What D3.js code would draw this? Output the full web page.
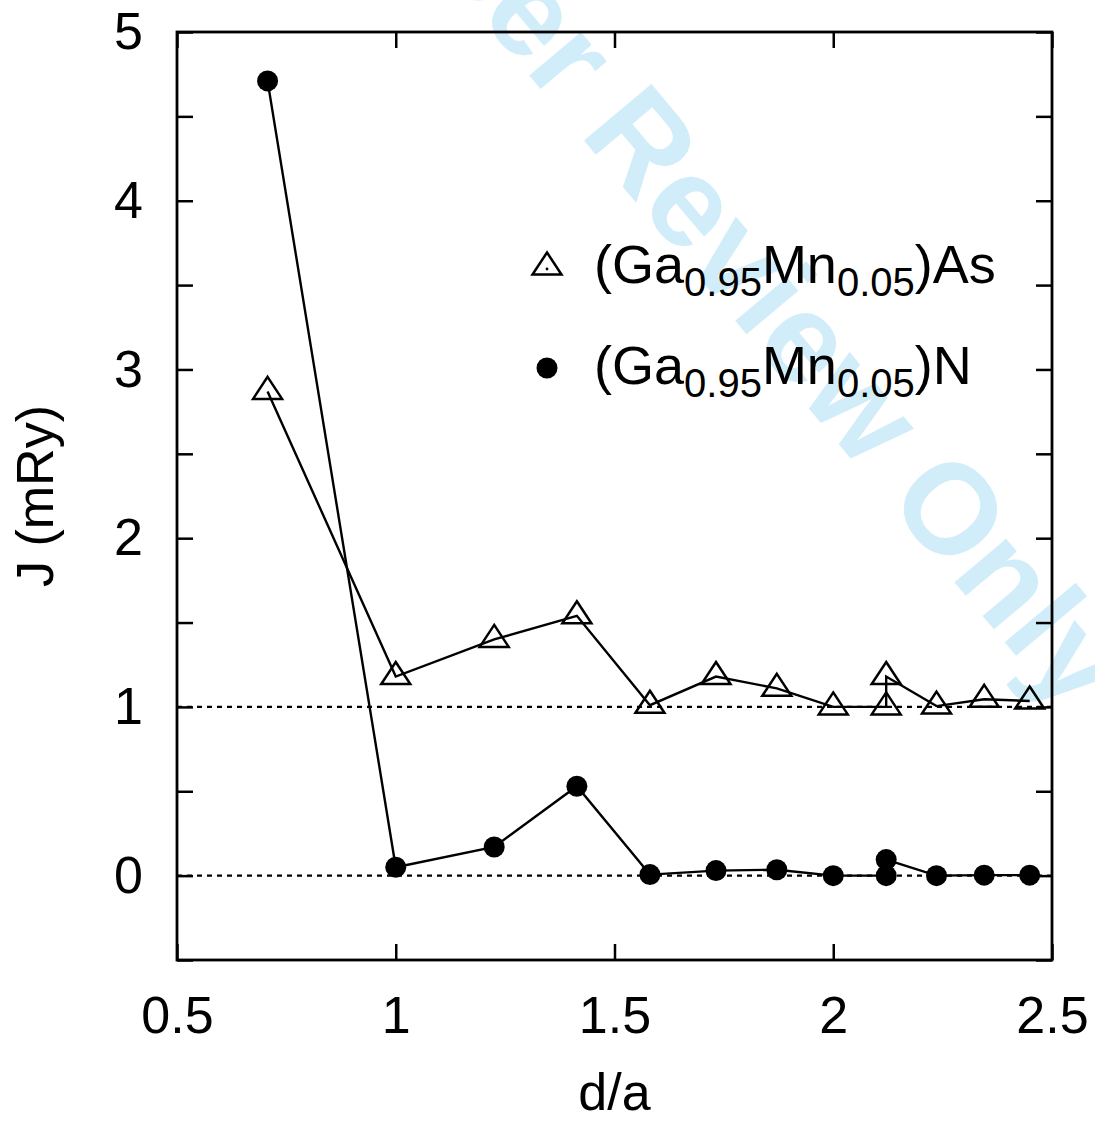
<!DOCTYPE html>
<html>
<head>
<meta charset="utf-8">
<script src="https://cdn.jsdelivr.net/npm/d3@7"></script>
<style>
  html, body { margin: 0; padding: 0; background: #fff; }
  svg { display: block; }
  text { font-family: "Liberation Sans", Arial, Helvetica, sans-serif; fill: #000; }
</style>
</head>
<body>
<svg id="chart" width="1095" height="1121"></svg>
<script>
// ---- data ----
const dOverA = [0.707, 1.0, 1.225, 1.414, 1.581, 1.732, 1.871, 2.0, 2.121, 2.121, 2.236, 2.345, 2.449];
const jGaMnAs = [2.87, 1.18, 1.40, 1.54, 1.01, 1.18, 1.11, 1.00, 1.00, 1.18, 1.005, 1.045, 1.035];
const jGaMnN  = [4.71, 0.05, 0.17, 0.53, 0.006, 0.03, 0.035, 0.0, 0.0, 0.095, 0.0, 0.003, 0.003];
const referenceLines = [0, 1];
const xTicks = [0.5, 1, 1.5, 2, 2.5];
const xTickLabels = ["0.5", "1", "1.5", "2", "2.5"];
const yTicks = [-0.5, 0, 0.5, 1, 1.5, 2, 2.5, 3, 3.5, 4, 4.5, 5];
const yTickLabels = ["", "0", "", "1", "", "2", "", "3", "", "4", "", "5"];
const xLabel = "d/a";
const yLabel = "J (mRy)";
const legendEntries = [
  { parts: [["(Ga", 0], ["0.95", 1], ["Mn", 0], ["0.05", 1], [")As", 0]], symbol: "triangle" },
  { parts: [["(Ga", 0], ["0.95", 1], ["Mn", 0], ["0.05", 1], [")N", 0]], symbol: "circle" }
];
const watermark = "For Peer Review Only";

// ---- layout ----
const svg = d3.select("#chart");
const L = 177, R = 1052, T = 32, B = 960;
const x = d3.scaleLinear().domain([0.5, 2.5]).range([L, R]);
const y = d3.scaleLinear().domain([-0.5, 5]).range([B, T]);

// watermark (behind everything)
const wm = svg.append("g").attr("transform", "translate(862,472) rotate(50)");
const probe = wm.append("text").attr("font-size", 128).attr("font-weight", "bold").text("For Peer Review ");
const prefixW = probe.node().getComputedTextLength();
probe.remove();
wm.append("text")
  .attr("x", -prefixW).attr("y", 0)
  .attr("font-size", 128).attr("font-weight", "bold")
  .style("fill", "#d2edfa")
  .text(watermark);

// reference dashed lines
svg.append("g").selectAll("line").data(referenceLines).join("line")
  .attr("x1", x(0.5)).attr("x2", x(2.5))
  .attr("y1", d => y(d)).attr("y2", d => y(d))
  .attr("stroke", "#000").attr("stroke-width", 2.4)
  .attr("stroke-dasharray", "5,5");

// axes
const tickLen = 16;
const fmtX = d => xTickLabels[xTicks.indexOf(d)];
const fmtY = d => yTickLabels[yTicks.indexOf(d)];

const gB = svg.append("g").attr("transform", `translate(0,${B})`)
  .call(d3.axisBottom(x).tickValues(xTicks).tickFormat(fmtX).tickSizeInner(-tickLen).tickSizeOuter(0).tickPadding(35));
const gT = svg.append("g").attr("transform", `translate(0,${T})`)
  .call(d3.axisTop(x).tickValues(xTicks).tickFormat("").tickSizeInner(-tickLen).tickSizeOuter(0));
const gL = svg.append("g").attr("transform", `translate(${L},0)`)
  .call(d3.axisLeft(y).tickValues(yTicks).tickFormat(fmtY).tickSizeInner(-tickLen).tickSizeOuter(0).tickPadding(34));
const gR = svg.append("g").attr("transform", `translate(${R},0)`)
  .call(d3.axisRight(y).tickValues(yTicks).tickFormat("").tickSizeInner(-tickLen).tickSizeOuter(0));

[gB, gT, gL, gR].forEach(g => {
  g.select(".domain").remove();
  g.selectAll(".tick line").attr("stroke", "#000").attr("stroke-width", 2.5);
  g.selectAll(".tick text")
    .attr("font-size", 52)
    .attr("font-family", "Liberation Sans, Arial, Helvetica, sans-serif")
    .style("fill", "#000");
});
gB.selectAll(".tick text").attr("dy", "0.73em");

// frame
svg.append("rect")
  .attr("x", L).attr("y", T).attr("width", R - L).attr("height", B - T)
  .attr("fill", "none").attr("stroke", "#000").attr("stroke-width", 2.8);

// axis titles
svg.append("text")
  .attr("x", (L + R) / 2).attr("y", 1110)
  .attr("text-anchor", "middle").attr("font-size", 52)
  .text(xLabel);
svg.append("text")
  .attr("transform", `translate(53,${(T + B) / 2}) rotate(-90)`)
  .attr("text-anchor", "middle").attr("font-size", 52)
  .text(yLabel);

// series
const line = d3.line().x(d => x(d[0])).y(d => y(d[1]));
const asPts = dOverA.map((d, i) => [d, jGaMnAs[i]]);
const nPts = dOverA.map((d, i) => [d, jGaMnN[i]]);

svg.append("path").datum(asPts).attr("d", line)
  .attr("fill", "none").attr("stroke", "#000").attr("stroke-width", 2.4);
svg.append("path").datum(nPts).attr("d", line)
  .attr("fill", "none").attr("stroke", "#000").attr("stroke-width", 2.4);

const triPath = "M0,-14.5 L14.5,7.5 L-14.5,7.5 Z";
svg.append("g").selectAll("path").data(asPts).join("path")
  .attr("transform", d => `translate(${x(d[0])},${y(d[1])})`)
  .attr("d", triPath)
  .attr("fill", "none").attr("stroke", "#000").attr("stroke-width", 2.5);

svg.append("g").selectAll("circle").data(nPts).join("circle")
  .attr("cx", d => x(d[0])).attr("cy", d => y(d[1]))
  .attr("r", 10.5).attr("fill", "#000");

// legend
const legY = [283, 384];
const leg = svg.append("g");
legendEntries.forEach((e, i) => {
  const by = legY[i];
  if (e.symbol === "triangle") {
    leg.append("path").attr("transform", `translate(547,${by - 16})`)
      .attr("d", triPath).attr("fill", "none").attr("stroke", "#000").attr("stroke-width", 2.5);
    leg.append("circle").attr("cx", 547).attr("cy", by - 14).attr("r", 1.4).attr("fill", "#000");
  } else {
    leg.append("circle").attr("cx", 547).attr("cy", by - 16).attr("r", 10.5).attr("fill", "#000");
  }
  const t = leg.append("text").attr("x", 594).attr("y", by);
  let prevSub = 0;
  e.parts.forEach(([s, sub]) => {
    const ts = t.append("tspan").text(s)
      .attr("font-size", sub ? 40 : 54);
    const dy = (sub - prevSub) * 13;
    if (dy !== 0) ts.attr("dy", dy);
    prevSub = sub;
  });
});
</script>
</body>
</html>
